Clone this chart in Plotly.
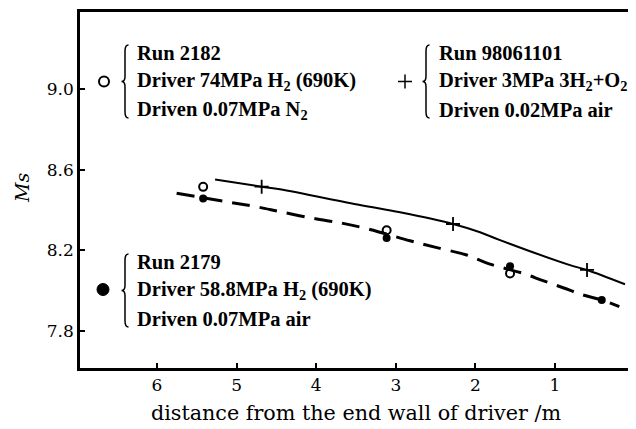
import plotly.graph_objects as go

# ---- data ----
run2182_x = [5.42, 3.115, 1.565]
run2182_y = [8.515, 8.300, 8.086]

run2179_x = [5.42, 3.115, 1.565, 0.413]
run2179_y = [8.457, 8.261, 8.122, 7.954]

run98_x = [4.685, 2.281, 0.598]
run98_y = [8.516, 8.331, 8.103]

solid_x = [5.27, 4.685, 4.455, 3.45, 2.947, 2.281, 1.942, 1.691, 0.812, 0.598, 0.121]
solid_y = [8.552, 8.516, 8.503, 8.425, 8.389, 8.331, 8.290, 8.251, 8.127, 8.103, 8.032]

dash_x = [5.753, 5.124, 4.747, 4.455, 4.040, 3.663, 3.324, 2.822, 2.445, 2.109,
          1.817, 1.402, 1.151, 0.899, 0.648, 0.413, 0.192]
dash_y = [8.483, 8.441, 8.416, 8.392, 8.359, 8.334, 8.304, 8.248, 8.210, 8.177,
          8.132, 8.086, 8.050, 8.015, 7.979, 7.954, 7.921]

x_ticks = [1, 2, 3, 4, 5, 6]
y_ticks = [7.8, 8.2, 8.6, 9.0]
y_tick_labels = ["7.8", "8.2", "8.6", "9.0"]

legend_blocks = [
    ["Run 2182", "Driver 74MPa H<sub>2</sub> (690K)", "Driven 0.07MPa N<sub>2</sub>"],
    ["Run 98061101", "Driver 3MPa 3H<sub>2</sub>+O<sub>2</sub>", "Driven 0.02MPa air"],
    ["Run 2179", "Driver 58.8MPa H<sub>2</sub> (690K)", "Driven 0.07MPa air"],
]

# ---- layout geometry (page pixels; the page body has an 8px margin) ----
W, H = 636, 429
BODY = 8
L, R, T, B = 80, 632, 12, 368


def px(x):
    return (x - L) / (R - L)


def py(y):
    return (B - y) / (B - T)


SERIF = "DejaVu Serif"

fig = go.Figure()

fig.add_trace(go.Scatter(x=solid_x, y=solid_y, mode="lines", line=dict(color="black", width=2, shape="spline"),
                         hoverinfo="skip", showlegend=False))
fig.add_trace(go.Scatter(x=dash_x, y=dash_y, mode="lines",
                         line=dict(color="black", width=3, dash="18px,10px", shape="spline"),
                         hoverinfo="skip", showlegend=False))
fig.add_trace(go.Scatter(x=run2182_x, y=run2182_y, mode="markers",
                         marker=dict(symbol="circle-open", size=8, color="black", line=dict(width=2, color="black")),
                         showlegend=False))
fig.add_trace(go.Scatter(x=run2179_x, y=run2179_y, mode="markers",
                         marker=dict(symbol="circle", size=8, color="black"),
                         showlegend=False))
fig.add_trace(go.Scatter(x=run98_x, y=run98_y, mode="markers",
                         marker=dict(symbol="cross-thin", size=10, color="black", line=dict(width=1.8, color="black")),
                         showlegend=False))

shapes = []
annotations = []


def brace(xc, ytop, ybot):
    ymid = (ytop + ybot) / 2
    xo = xc + 3.5
    xt = xc - 3.5
    pts = [
        f"M{px(xo)},{py(ytop)}",
        f"Q{px(xc)},{py(ytop)} {px(xc)},{py(ytop + 6)}",
        f"L{px(xc)},{py(ymid - 5)}",
        f"Q{px(xc)},{py(ymid)} {px(xt)},{py(ymid)}",
        f"Q{px(xc)},{py(ymid)} {px(xc)},{py(ymid + 5)}",
        f"L{px(xc)},{py(ybot - 6)}",
        f"Q{px(xc)},{py(ybot)} {px(xo)},{py(ybot)}",
    ]
    shapes.append(dict(type="path", xref="paper", yref="paper", path=" ".join(pts),
                       line=dict(color="black", width=1.5)))


def block(lines, xtext, ytop_line, spacing):
    for i, t in enumerate(lines):
        annotations.append(dict(xref="paper", yref="paper", x=px(xtext), y=py(ytop_line + i * spacing),
                                text=f"<b>{t}</b>", showarrow=False, xanchor="left", yanchor="middle",
                                borderpad=0,
                                font=dict(family="Liberation Serif", size=20.5, color="black")))


# block 1 (open circle)
shapes.append(dict(type="circle", xref="paper", yref="paper", xsizemode="pixel", ysizemode="pixel",
                   xanchor=px(104), yanchor=py(81.5), x0=-5, x1=5, y0=-5, y1=5,
                   line=dict(color="black", width=2), fillcolor="white"))
brace(125, 45, 118)
block(legend_blocks[0], 136, 53, 28.5)

# block 2 (plus)
shapes.append(dict(type="line", xref="paper", yref="paper", x0=px(398), x1=px(412), y0=py(81.5), y1=py(81.5),
                   line=dict(color="black", width=1.5)))
shapes.append(dict(type="line", xref="paper", yref="paper", x0=px(405), x1=px(405), y0=py(74.5), y1=py(88.5),
                   line=dict(color="black", width=1.5)))
brace(426, 45, 118)
block(legend_blocks[1], 438, 53, 28.5)

# block 3 (filled circle)
shapes.append(dict(type="circle", xref="paper", yref="paper", xsizemode="pixel", ysizemode="pixel",
                   xanchor=px(103), yanchor=py(289.5), x0=-6, x1=6, y0=-6, y1=6,
                   line=dict(color="black", width=1), fillcolor="black"))
brace(125, 254, 327)
block(legend_blocks[2], 136, 262, 28.5)

# y-axis title
annotations.append(dict(xref="paper", yref="paper", x=px(22), y=py(188), text="<i>Ms</i>", textangle=-90,
                        showarrow=False, xanchor="center", yanchor="middle",
                        font=dict(family=SERIF, size=19, color="black")))

fig.update_layout(
    width=W, height=H,
    margin=dict(l=L - BODY, r=W - (R - BODY), t=T - BODY, b=H - (B - BODY)),
    paper_bgcolor="white", plot_bgcolor="white",
    shapes=shapes, annotations=annotations,
    xaxis=dict(range=[6.967, 0.033], tickvals=x_ticks, ticks="inside", ticklen=5, tickwidth=2, tickcolor="black",
               showline=True, linecolor="black", linewidth=2.5, mirror=True, showgrid=False, zeroline=False,
               automargin=False,
               tickfont=dict(family=SERIF, size=17, color="black"),
               title=dict(text="distance from the end wall of driver /m", standoff=12,
                          font=dict(family=SERIF, size=20.7, color="black"))),
    yaxis=dict(range=[7.617, 9.382], tickvals=y_ticks, ticktext=y_tick_labels, ticks="inside", ticklen=5,
               tickwidth=2, tickcolor="black", automargin=False,
               showline=True, linecolor="black", linewidth=2.5, mirror=True, showgrid=False, zeroline=False,
               tickfont=dict(family=SERIF, size=17, color="black")),
)

fig.write_html("out.html")
